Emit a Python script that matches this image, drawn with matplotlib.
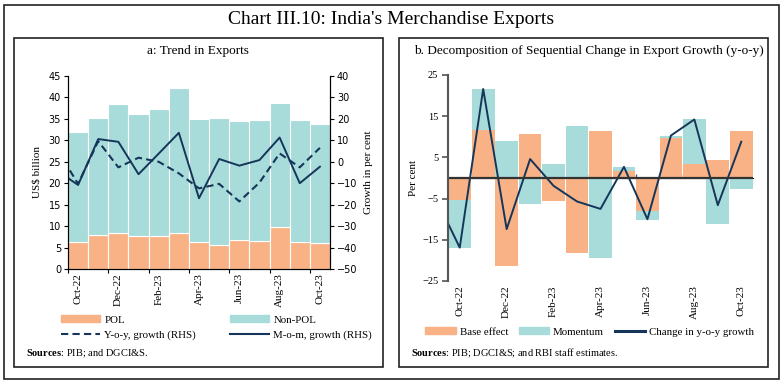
import numpy as np
import matplotlib
matplotlib.use("Agg")
import matplotlib.pyplot as plt
from matplotlib.patches import Rectangle, Patch
from matplotlib.lines import Line2D

# data
months = ["Oct-22", "Nov-22", "Dec-22", "Jan-23", "Feb-23", "Mar-23", "Apr-23",
          "May-23", "Jun-23", "Jul-23", "Aug-23", "Sep-23", "Oct-23"]
pol = [6.4, 8.0, 8.3, 7.8, 7.8, 8.3, 6.4, 5.7, 6.8, 6.6, 9.7, 6.4, 6.0]
non_pol = [25.5, 27.1, 30.1, 28.3, 29.5, 33.8, 28.5, 29.4, 27.7, 28.1, 29.0, 28.3, 27.8]
# growth lines start with Sep-22 (clipped at the left edge)
yoy_growth = [5.1, -10.3, 9.6, -2.6, 1.9, 0.0, -5.4, -12.4, -10.3, -18.5, -9.7, 3.9, -2.6, 6.5]
mom_growth = [-4.4, -10.8, 10.6, 9.3, -5.8, 3.8, 13.5, -17.0, 1.3, -1.8, 0.8, 11.3, -10.0, -2.3]

base_effect = [-5.3, 11.6, -21.3, 10.7, -5.6, -18.3, 11.5, 1.7, -8.0, 9.6, 3.4, 4.4, 11.3]
momentum = [-11.6, 10.0, 9.0, -6.3, 3.3, 12.7, -19.3, 1.0, -2.2, 0.7, 10.8, -11.2, -2.6]
yoy_change = [-5.1, -16.9, 21.6, -12.4, 4.6, -1.9, -5.7, -7.5, 2.7, -10.0, 10.3, 14.2, -6.6, 8.8]

ORANGE = "#F8B285"
TEAL = "#A7DCDA"
NAVY = "#15365A"
SERIF = "Liberation Serif"
plt.rcParams["mathtext.fontset"] = "custom"
plt.rcParams["mathtext.bf"] = "Liberation Serif:bold"
plt.rcParams["mathtext.rm"] = "Liberation Serif"

W, H = 783, 385
fig = plt.figure(figsize=(W / 100, H / 100), dpi=100)


def box(x0, y0, x1, y1, lw=1.2):
    fig.add_artist(Rectangle((x0 / W, 1 - y1 / H), (x1 - x0) / W, (y1 - y0) / H,
                             transform=fig.transFigure, fill=False, lw=lw, ec="#222222"))


def ax_rect(x0, y0, x1, y1):
    return [x0 / W, 1 - y1 / H, (x1 - x0) / W, (y1 - y0) / H]


box(4, 5, 779, 379)
box(14, 38, 383, 367)
box(399, 38, 768, 367)

fig.text(391 / W, 1 - 20 / H, "Chart III.10: India's Merchandise Exports", ha="center", va="center",
         fontsize=14, family=SERIF)
fig.text(198 / W, 1 - 51 / H, "a: Trend in Exports", ha="center", va="center", fontsize=9.5, family=SERIF)
fig.text(589 / W, 1 - 51 / H, "b. Decomposition of Sequential Change in Export Growth (y-o-y)",
         ha="center", va="center", fontsize=9.5, family=SERIF)

x = np.arange(len(months))
xl = np.arange(-1, len(months))

# ---- panel a
ax1 = fig.add_axes(ax_rect(68, 76, 330, 269))
ax1.bar(x, pol, width=1.0, color=ORANGE, edgecolor="white", lw=0.8)
ax1.bar(x, non_pol, bottom=pol, width=1.0, color=TEAL, edgecolor="white", lw=0.8)
ax1.set_xlim(-0.5, 12.5)
ax1.set_ylim(0, 45)
ax1.set_yticks(range(0, 46, 5))
ax1.set_ylabel("US$ billion", family=SERIF, fontsize=8, labelpad=5)
ax2 = ax1.twinx()
ax2.plot(xl, yoy_growth, color=NAVY, lw=1.5, ls=(0, (3.5, 2)))
ax2.plot(xl, mom_growth, color=NAVY, lw=1.4)
ax2.set_ylim(-50, 40)
ax2.set_yticks(range(-50, 41, 10))
ax2.set_ylabel("Growth in per cent", family=SERIF, fontsize=8, labelpad=5)
for a in (ax1, ax2):
    a.spines["top"].set_visible(False)
    for s in a.spines.values():
        s.set_linewidth(0.8)
    a.tick_params(axis="y", labelsize=7, length=3, width=0.8, pad=2)
ax1.set_xticks(x[::2])
ax1.set_xticklabels(months[::2], rotation=90, family=SERIF, fontsize=8)
ax1.set_xticks(np.arange(-0.5, 13, 2), minor=True)
ax1.tick_params(axis="x", which="major", length=0, pad=3)
ax1.tick_params(axis="x", which="minor", length=3, width=0.8)

hl = [Patch(color=ORANGE), Line2D([], [], color=NAVY, lw=1.5, ls=(0, (3.5, 2))),
      Patch(color=TEAL), Line2D([], [], color=NAVY, lw=1.5)]
fig.legend(hl, ["POL", "Y-o-y, growth (RHS)", "Non-POL", "M-o-m, growth (RHS)"], ncol=2,
           loc="upper left", bbox_to_anchor=(56 / W, 1 - 310 / H), frameon=False,
           prop={"family": SERIF, "size": 7.8}, handlelength=3.6, handleheight=0.6,
           handletextpad=0.35, columnspacing=3.2, labelspacing=0.5, borderpad=0)
fig.text(26 / W, 1 - 353 / H, r"$\bf{Sources}$: PIB; and DGCI&S.", fontsize=7.5, family=SERIF,
         va="center")

# ---- panel b
ax3 = fig.add_axes(ax_rect(448, 75, 753, 281))
be = np.array(base_effect)
mo = np.array(momentum)
mo_bottom = np.where(np.sign(mo) == np.sign(be), be, 0)
ax3.bar(x, be, width=0.97, color=ORANGE)
ax3.bar(x, mo, bottom=mo_bottom, width=0.97, color=TEAL)
ax3.plot(xl, yoy_change, color=NAVY, lw=1.4)
ax3.axhline(0, color="#333333", lw=1.6)
ax3.set_xlim(-0.5, 12.5)
ax3.set_ylim(-25, 25)
ax3.set_yticks(range(-25, 26, 10))
ax3.set_ylabel("Per cent", family=SERIF, fontsize=8, labelpad=3)
for s in ("top", "right", "bottom"):
    ax3.spines[s].set_visible(False)
ax3.spines["left"].set_color("#555555")
ax3.spines["left"].set_linewidth(1.5)
ax3.tick_params(axis="y", labelsize=7.5, length=4, width=1.2, color="#555555", pad=3)
for lab in ax3.get_yticklabels():
    lab.set_family(SERIF)
ax3.set_xticks(x[::2])
ax3.set_xticklabels(months[::2], rotation=90, family=SERIF, fontsize=8)
ax3.tick_params(axis="x", length=0, pad=3)
sec = ax3.secondary_xaxis(0.5)
sec.set_xticks(np.arange(1.5, 13, 2))
sec.set_xticklabels([])
sec.spines["bottom"].set_visible(False)
sec.tick_params(axis="x", length=3, width=1, color="#555555")

hr = [Patch(color=ORANGE), Patch(color=TEAL), Line2D([], [], color=NAVY, lw=2.2)]
fig.legend(hr, ["Base effect", "Momentum", "Change in y-o-y growth"], ncol=3,
           loc="center left", bbox_to_anchor=(420 / W, 1 - 332 / H), frameon=False,
           prop={"family": SERIF, "size": 7.8}, handlelength=2.8, handleheight=0.6,
           handletextpad=0.35, columnspacing=1.0, borderpad=0)
fig.text(411 / W, 1 - 353 / H, r"$\bf{Sources}$: PIB; DGCI&S; and RBI staff estimates.",
         fontsize=7.5, family=SERIF, va="center")

fig.savefig("out.png", dpi=100)
